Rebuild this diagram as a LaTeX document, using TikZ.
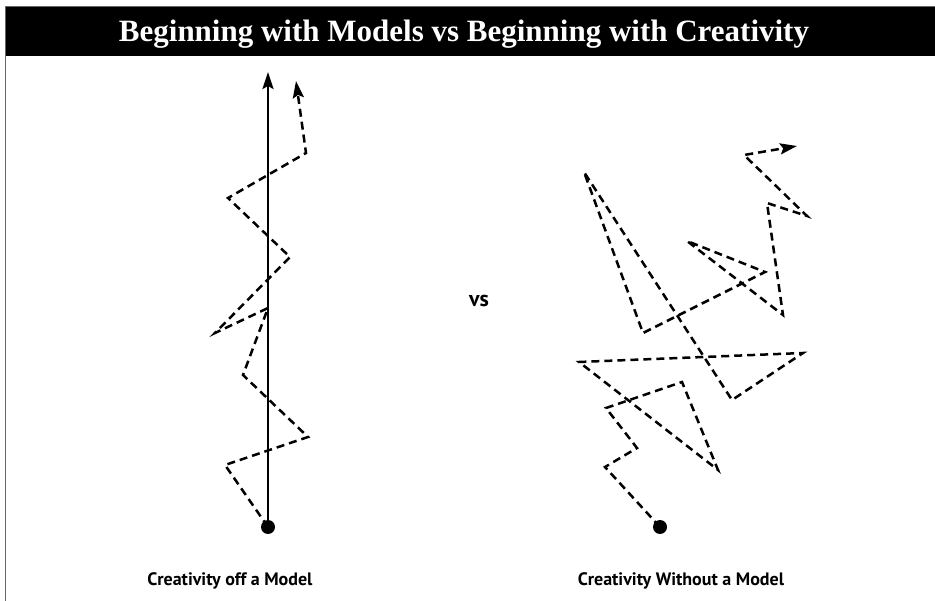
\documentclass[tikz,border=0pt]{standalone}
\usepackage{fontspec}
\usetikzlibrary{arrows.meta}
\setmainfont{Liberation Serif}
\newfontfamily\capfont{PT Sans}

\begin{document}
\begin{tikzpicture}[x=1pt, y=-1pt, line width=2.5pt,
    walk/.style = {dash pattern=on 8pt off 5pt},
    tip/.style = {-{Stealth[length=17pt, width=11pt, inset=3pt]}},
    dot/.style = {circle, fill, inner sep=0pt, minimum size=14pt},
    caption/.style = {font=\capfont\bfseries\fontsize{18}{21}\selectfont}]
    \useasboundingbox (0,0) rectangle (935,601);
    % frame and title bar
    \fill[black] (5,7) rectangle (935,56);
    \draw[gray!80!black, line width=1.2pt] (935,6.5) -- (5.6,6.5) -- (5.6,601);
    \node[text=white, anchor=base, font=\bfseries\fontsize{31}{34}\selectfont] (title) at (464,42) {Beginning with Models vs Beginning with Creativity};

    % creativity off a model
    \node[dot] (s1) at (268,527) {};
    \coordinate (m) at (268,72);
    \coordinate (a1) at (225,465);
    \coordinate (a2) at (308,437);
    \coordinate (a3) at (243,375);
    \coordinate (a4) at (268,308);
    \coordinate (a5) at (215,333);
    \coordinate (a6) at (290,257);
    \coordinate (a7) at (228,198);
    \coordinate (a8) at (306,153);
    \coordinate (a9) at (296,81);
    \draw[tip] (s1.center) -- (m);
    \draw[walk, tip] (s1.center) -- (a1) -- (a2) -- (a3) -- (a4) -- (a5) -- (a6) -- (a7) -- (a8) -- (a9);
    \node[caption, anchor=base] (c1) at (230,585) {Creativity off a Model};

    \node[font=\capfont\bfseries\fontsize{22}{24}\selectfont] (vs) at (479,301) {vs};

    % creativity without a model
    \node[dot] (s2) at (660,527) {};
    \coordinate (b1) at (605,467);
    \coordinate (b2) at (637,448);
    \coordinate (b3) at (606,408);
    \coordinate (b4) at (682,382);
    \coordinate (b5) at (718,470);
    \coordinate (b6) at (579,362);
    \coordinate (b7) at (803,353);
    \coordinate (b8) at (732,400);
    \coordinate (b9) at (584,172);
    \coordinate (b10) at (643,333);
    \coordinate (b11) at (765,272);
    \coordinate (b12) at (687,241);
    \coordinate (b13) at (783,315);
    \coordinate (b14) at (767,203);
    \coordinate (b15) at (807,216);
    \coordinate (b16) at (744,155);
    \coordinate (b17) at (797,146);
    \draw[walk, tip] (s2.center) -- (b1) -- (b2) -- (b3) -- (b4) -- (b5) -- (b6) -- (b7) -- (b8) -- (b9) -- (b10) -- (b11) -- (b12) -- (b13) -- (b14) -- (b15) -- (b16) -- (b17);
    \node[caption, anchor=base] (c2) at (681,585) {Creativity Without a Model};
\end{tikzpicture}
\end{document}
